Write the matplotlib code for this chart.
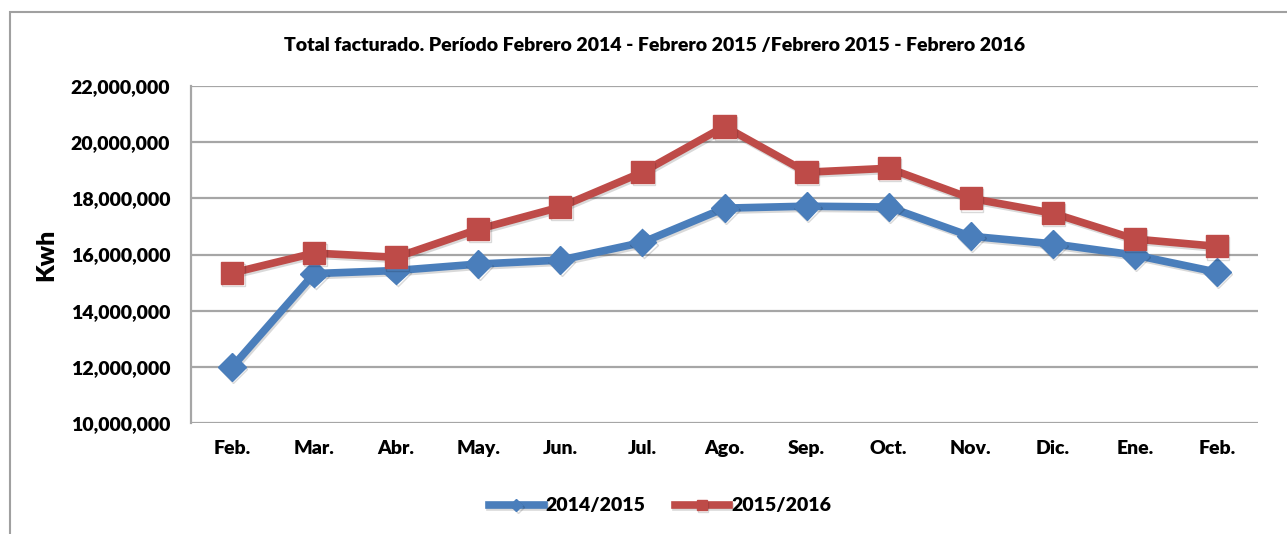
import matplotlib.pyplot as plt
import matplotlib.patheffects as pe
from matplotlib.patches import Rectangle
from matplotlib.ticker import FuncFormatter

plt.rcParams["font.family"] = ["Lato", "DejaVu Sans"]
plt.rcParams["font.weight"] = "heavy"

months = ["Feb.", "Mar.", "Abr.", "May.", "Jun.", "Jul.", "Ago.",
          "Sep.", "Oct.", "Nov.", "Dic.", "Ene.", "Feb."]
kwh_2014_2015 = [11_990_000, 15_320_000, 15_430_000, 15_660_000, 15_800_000,
                 16_430_000, 17_650_000, 17_720_000, 17_690_000, 16_650_000,
                 16_380_000, 15_980_000, 15_370_000]
kwh_2015_2016 = [15_340_000, 16_050_000, 15_900_000, 16_900_000, 17_690_000,
                 18_930_000, 20_560_000, 18_930_000, 19_070_000, 18_000_000,
                 17_470_000, 16_550_000, 16_290_000]
series_labels = ["2014/2015", "2015/2016"]

BLUE = "#4A7EBB"
RED = "#BE4B48"
GRID = "#A6A6A6"

fig = plt.figure(figsize=(12.87, 5.34), dpi=100)
fig.patches.append(Rectangle((10 / 1287, -0.05), 1.2, 1 - 12 / 534 + 0.05,
                             transform=fig.transFigure, fill=False,
                             edgecolor="#A0A0A0", linewidth=1.5))

ax = fig.add_axes([191 / 1287, 1 - 423 / 534, (1258 - 191) / 1287, (423 - 86) / 534])
x = range(len(months))
shadow = [pe.SimpleLineShadow(offset=(1, -1.5), alpha=0.15), pe.Normal()]

ax.plot(x, kwh_2014_2015, color=BLUE, linewidth=5.5, marker="D", markersize=14,
        label=series_labels[0], path_effects=shadow, solid_joinstyle="round")
ax.plot(x, kwh_2015_2016, color=RED, linewidth=5.5, marker="s", markersize=16,
        label=series_labels[1], path_effects=shadow, solid_joinstyle="round")

ax.set_xlim(-0.5, len(months) - 0.5)
ax.set_ylim(10_000_000, 22_000_000)
ax.set_yticks(range(10_000_000, 22_000_001, 2_000_000))
ax.yaxis.set_major_formatter(FuncFormatter(lambda v, _: f"{v:,.0f}"))
ax.set_xticks(list(x))
ax.set_xticklabels(months)
ax.tick_params(axis="both", length=0, labelsize=14, colors="black")
ax.tick_params(axis="x", pad=12)
ax.tick_params(axis="y", pad=15)

ax.grid(axis="y", color=GRID, linewidth=1.6)
ax.set_axisbelow(True)
for side in ["top", "right", "bottom"]:
    ax.spines[side].set_visible(False)
ax.spines["left"].set_color(GRID)
ax.spines["left"].set_linewidth(1.6)

ax.set_ylabel("Kwh", fontsize=18, fontweight="heavy", labelpad=10)
fig.text(655 / 1287, 1 - 46 / 534,
         "Total facturado. Período Febrero 2014 - Febrero 2015 /Febrero 2015 - Febrero 2016",
         ha="center", va="center", fontsize=14)

leg = fig.legend(loc="center", bbox_to_anchor=(660 / 1287, 1 - 506 / 534), ncol=2,
                 frameon=False, fontsize=14, handlelength=2.8, markerscale=0.45,
                 columnspacing=1.5, handletextpad=0.1)

fig.savefig("out.png", dpi=100)
